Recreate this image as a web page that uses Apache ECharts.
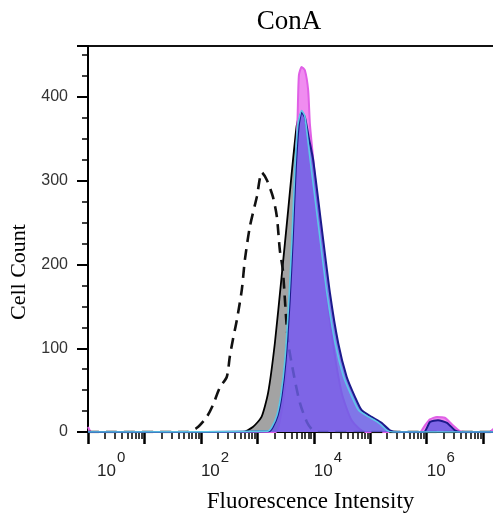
<!DOCTYPE html>
<html><head><meta charset="utf-8">
<script src="https://cdn.jsdelivr.net/npm/echarts@6/dist/echarts.min.js"></script>
<style>html,body{margin:0;padding:0;background:#fff}#c{width:493px;height:515px}</style>
</head><body><div id="c"></div>
<script>
const chartTitle = 'ConA';
const xName = 'Fluorescence Intensity';
const yName = 'Cell Count';
const yMajorTicks = [0, 100, 200, 300, 400];
const xLabelExponents = [0, 2, 4, 6];
const xMin = 1, xMax = 19100000;

// Unstained control (dashed)
const unstainedX = [1, 56, 85, 127, 163, 216, 288, 325, 368, 434, 531, 600, 736, 980, 1202, 1472, 1884, 2218, 2506, 2831, 3475, 4436, 5662, 7534, 9638, 12823, 19100000];
const unstainedY = [0, 0, 5, 18, 32, 53, 66, 90, 110, 134, 170, 205, 245, 281, 310, 301, 281, 257, 217, 193, 110, 68, 35, 12, 2, 0, 0];

// Gray filled sample (black outline)
const grayX = [1, 557, 832, 1186, 1553, 2042, 2685, 3516, 4140, 4955, 5495, 7079, 8913, 11220, 14125, 17783, 25119, 39811, 19100000];
const grayY = [0, 0, 6, 18, 47, 106, 185, 265, 315, 365, 378, 300, 200, 110, 50, 18, 5, 0, 0];

// Magenta sample
const magentaX = [1, 1.15, 2128, 2506, 2951, 3334, 3767, 4256, 4621, 5161, 5445, 6081, 6955, 7955, 8531, 10471, 12823, 16866, 21827, 31117, 46774, 80538, 759000, 933000, 1143000, 1514000, 2089000, 2818000, 3890000, 4786000, 13000000, 16000000, 19100000];
const magentaY = [6, 0, 0, 14, 44, 86, 161, 221, 289, 376, 426, 436, 432, 408, 368, 305, 245, 166, 106, 47, 14, 0, 0, 8, 15, 18, 17, 9, 1, 0, 0, 5, 8];

// Navy-outlined blue sample
const navyX = [1, 1600, 1880, 2300, 2700, 3180, 3750, 4230, 4780, 5400, 6081, 6966, 8185, 9750, 13740, 19320, 27100, 38190, 53580, 70470, 105900, 159200, 223400, 309700, 895000, 1143000, 1585000, 2291000, 3162000, 3890000, 19100000];
const navyY = [0, 1, 6, 20, 44, 86, 158, 229, 313, 365, 382, 376, 351, 325, 245, 166, 106, 66, 42, 26, 18, 11, 2, 0, 0, 12, 14, 11, 2, 0, 0];

// Cyan-outlined sample
const cyanX = [1, 1535, 1807, 2218, 2612, 3076, 3622, 4093, 4621, 5224, 6081, 6900, 8630, 12160, 17060, 23930, 33730, 47420, 62230, 93760, 140900, 197700, 252900, 19100000];
const cyanY = [0, 1, 6, 20, 44, 86, 158, 229, 313, 367, 384, 378, 325, 245, 166, 106, 66, 42, 26, 18, 11, 2, 0, 0];

function pairs(xs, ys) { return xs.map((x, i) => [x, ys[i]]); }

// log-decade tick positions for the axis
const xMajorTicks = [];
const xMinorTicks = [];
for (let d = 0; d <= 7; d++) {
  const p = Math.pow(10, d);
  xMajorTicks.push(p);
  for (let k = 2; k <= 9; k++) if (k * p < xMax) xMinorTicks.push(k * p);
}

const chart = echarts.init(document.getElementById('c'), null, { renderer: 'canvas' });
const labelFont = 'Liberation Sans';
const serif = 'Liberation Serif';

chart.setOption({
  animation: false,
  backgroundColor: '#fff',
  title: {
    text: chartTitle, left: 284, top: 3, textAlign: 'center',
    textStyle: { fontFamily: serif, fontSize: 27, fontWeight: 'normal', color: '#000' }
  },
  grid: { left: 88, right: -6, top: 46, bottom: 83, show: true, borderColor: '#111', borderWidth: 2, backgroundColor: 'transparent', outerBoundsMode: 'none', containLabel: false },
  xAxis: [
    {
      type: 'log', logBase: 10, min: xMin, max: xMax, position: 'bottom',
      name: xName, nameLocation: 'middle', nameGap: 58,
      nameTextStyle: { fontFamily: serif, fontSize: 23, color: '#000', padding: [0, 0, 0, 34] },
      axisLine: { show: true, lineStyle: { color: '#000', width: 2 } },
      axisTick: { show: true, inside: false, length: 12, customValues: xMajorTicks, lineStyle: { color: '#000', width: 2.5 } },
      minorTick: { show: false },
      splitLine: { show: false }, minorSplitLine: { show: false },
      axisLabel: {
        margin: 18, align: 'left', customValues: xMajorTicks,
        formatter: function (v) {
          const e = Math.log10(v);
          const r = Math.round(e);
          if (Math.abs(e - r) > 1e-6 || xLabelExponents.indexOf(r) < 0) return '';
          return (r === 0 ? '{p|}' : '') + '{b|10}{s|' + r + '}';
        },
        rich: {
          p: { width: 9 },
          b: { fontFamily: labelFont, fontSize: 17, color: '#222', padding: [13, 0, 0, 0], verticalAlign: 'bottom' },
          s: { fontFamily: labelFont, fontSize: 15, color: '#222', verticalAlign: 'top', padding: [0, 0, 0, 1] }
        }
      }
    },
    {
      type: 'log', logBase: 10, min: xMin, max: xMax, position: 'bottom', offset: 0,
      axisLine: { show: false },
      axisTick: { show: true, inside: false, length: 7, customValues: xMinorTicks, lineStyle: { color: '#000', width: 1.5 } },
      axisLabel: { show: false }, splitLine: { show: false }
    }
  ],
  yAxis: [
    {
      type: 'value', min: 0, max: 461, interval: 25,
      axisLine: { show: true, lineStyle: { color: '#000', width: 2 } },
      axisTick: { show: true, length: 6, lineStyle: { color: '#000', width: 1.5 } },
      axisLabel: { show: false }, splitLine: { show: false }
    },
    {
      type: 'value', min: 0, max: 461, interval: 100, position: 'left',
      name: yName, nameLocation: 'middle', nameGap: 47, nameRotate: 90,
      nameTextStyle: { fontFamily: serif, fontSize: 22, color: '#000', padding: [0, 66, 0, 0] },
      axisLine: { show: true, lineStyle: { color: '#000', width: 2 } },
      axisTick: { show: true, length: 11, lineStyle: { color: '#000', width: 2 } },
      axisLabel: {
        margin: 20, fontFamily: labelFont, fontSize: 16, color: '#333',
        formatter: function (v) { return yMajorTicks.indexOf(v) >= 0 ? String(v) : ''; }
      },
      splitLine: { show: false }
    }
  ],
  series: [
    {
      name: 'gray', type: 'line', data: pairs(grayX, grayY), smooth: 0.2, symbol: 'none', z: 2,
      lineStyle: { color: '#000', width: 1.8 }, areaStyle: { color: '#a3a3a3', opacity: 1 }
    },
    {
      name: 'magenta', type: 'line', data: pairs(magentaX, magentaY), smooth: 0.2, symbol: 'none', z: 3,
      lineStyle: { color: '#e060e6', width: 2 }, areaStyle: { color: '#f08cf0', opacity: 1 }
    },
    {
      name: 'unstained', type: 'line', data: pairs(unstainedX, unstainedY), smooth: 0.25, symbol: 'none', z: 4,
      lineStyle: { color: '#111', width: 2.6, type: [11, 7] }
    },
    {
      name: 'navy', type: 'line', data: pairs(navyX, navyY), smooth: 0.2, symbol: 'none', z: 5,
      lineStyle: { color: '#1c1a8c', width: 2 }, areaStyle: { color: 'rgb(106,94,228)', opacity: 0.85 }
    },
    {
      name: 'cyan', type: 'line', data: pairs(cyanX, cyanY), smooth: 0.2, symbol: 'none', z: 6,
      lineStyle: { color: '#5cc8e8', width: 1.6 }
    }
  ]
});
</script>
</body></html>
